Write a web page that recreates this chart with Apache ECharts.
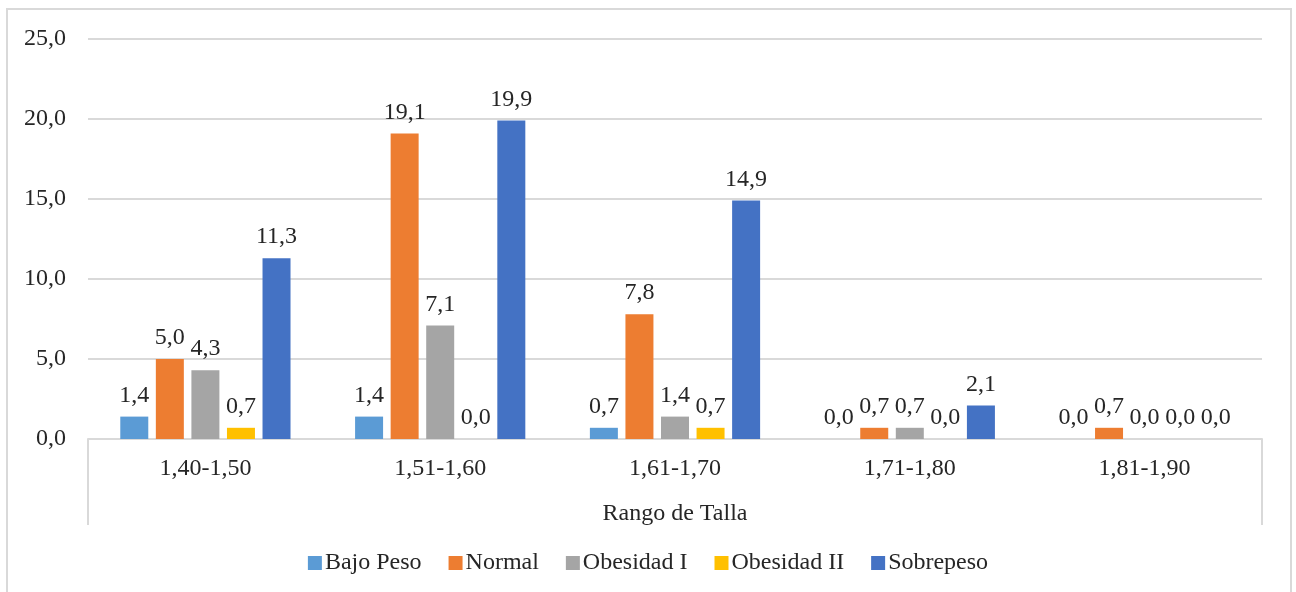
<!DOCTYPE html>
<html>
<head>
<meta charset="utf-8">
<script src="https://cdn.jsdelivr.net/npm/echarts@6/dist/echarts.min.js"></script>
<style>
  html, body { margin: 0; padding: 0; background: #ffffff; }
  #chart { width: 1296px; height: 592px; }
</style>
</head>
<body>
<div id="chart"></div>
<script>
// Height ranges (categories) and percentage per nutritional status
const categories = ['1,40-1,50', '1,51-1,60', '1,61-1,70', '1,71-1,80', '1,81-1,90'];
const bajoPeso    = [1.4, 1.4, 0.7, 0.0, 0.0];
const normal      = [5.0, 19.1, 7.8, 0.7, 0.7];
const obesidadI   = [4.3, 7.1, 1.4, 0.7, 0.0];
const obesidadII  = [0.7, 0.0, 0.7, 0.0, 0.0];
const sobrepeso   = [11.3, 19.9, 14.9, 2.1, 0.0];
const seriesNames = ['Bajo Peso', 'Normal', 'Obesidad I', 'Obesidad II', 'Sobrepeso'];
const seriesData  = [bajoPeso, normal, obesidadI, obesidadII, sobrepeso];
const colors      = ['#5B9BD5', '#ED7D31', '#A5A5A5', '#FFC000', '#4472C4'];

const FONT = '"Liberation Serif", "Times New Roman", serif';
const FS = 24;
const TEXT = '#262626';
const LINE = '#d9d9d9';
const W = 1296, H = 592;
const grid = { left: 88, right: 34, top: 39, bottom: 153 };
const fmt = v => Number(v).toFixed(1).replace('.', ',');

const chart = echarts.init(document.getElementById('chart'), null, { renderer: 'canvas' });

const baseY = H - grid.bottom;
const option = {
  animation: false,
  color: colors,
  textStyle: { fontFamily: FONT, color: TEXT },
  grid: { left: grid.left, right: grid.right, top: grid.top, bottom: grid.bottom, containLabel: false },
  legend: {
    data: seriesNames,
    bottom: 12,
    left: 'center',
    itemWidth: 14,
    itemHeight: 14,
    itemGap: 27,
    icon: 'rect',
    textStyle: { fontFamily: FONT, fontSize: FS, color: TEXT, padding: [0, 0, 0, -2] }
  },
  xAxis: {
    type: 'category',
    data: categories,
    name: 'Rango de Talla',
    nameLocation: 'middle',
    nameGap: 63,
    nameTextStyle: { fontFamily: FONT, fontSize: FS, color: TEXT },
    axisLine: { lineStyle: { color: LINE, width: 2 } },
    axisTick: { show: false },
    axisLabel: { fontFamily: FONT, fontSize: FS, color: TEXT, margin: 18 }
  },
  yAxis: {
    type: 'value',
    min: 0,
    max: 25,
    interval: 5,
    axisLine: { show: false },
    axisTick: { show: false },
    splitLine: { lineStyle: { color: LINE, width: 2 } },
    axisLabel: { fontFamily: FONT, fontSize: FS, color: TEXT, margin: 22, formatter: fmt }
  },
  series: seriesNames.map((name, i) => ({
    name: name,
    type: 'bar',
    data: seriesData[i],
    barWidth: 28,
    barGap: '27%',
    itemStyle: { color: colors[i] },
    label: {
      show: true,
      position: 'top',
      distance: 9,
      fontFamily: FONT,
      fontSize: FS,
      color: TEXT,
      formatter: p => fmt(p.value)
    }
  })),
  graphic: [
    // outer chart frame
    {
      type: 'rect',
      silent: true,
      shape: { x: 7, y: 9, width: W - 7 - 5, height: H },
      style: { fill: 'none', stroke: LINE, lineWidth: 2 }
    },
    // category box edges below the axis
    {
      type: 'line',
      silent: true,
      shape: { x1: grid.left, y1: baseY, x2: grid.left, y2: baseY + 86 },
      style: { stroke: LINE, lineWidth: 2 }
    },
    {
      type: 'line',
      silent: true,
      shape: { x1: W - grid.right, y1: baseY, x2: W - grid.right, y2: baseY + 86 },
      style: { stroke: LINE, lineWidth: 2 }
    }
  ]
};

chart.setOption(option);
</script>
</body>
</html>
